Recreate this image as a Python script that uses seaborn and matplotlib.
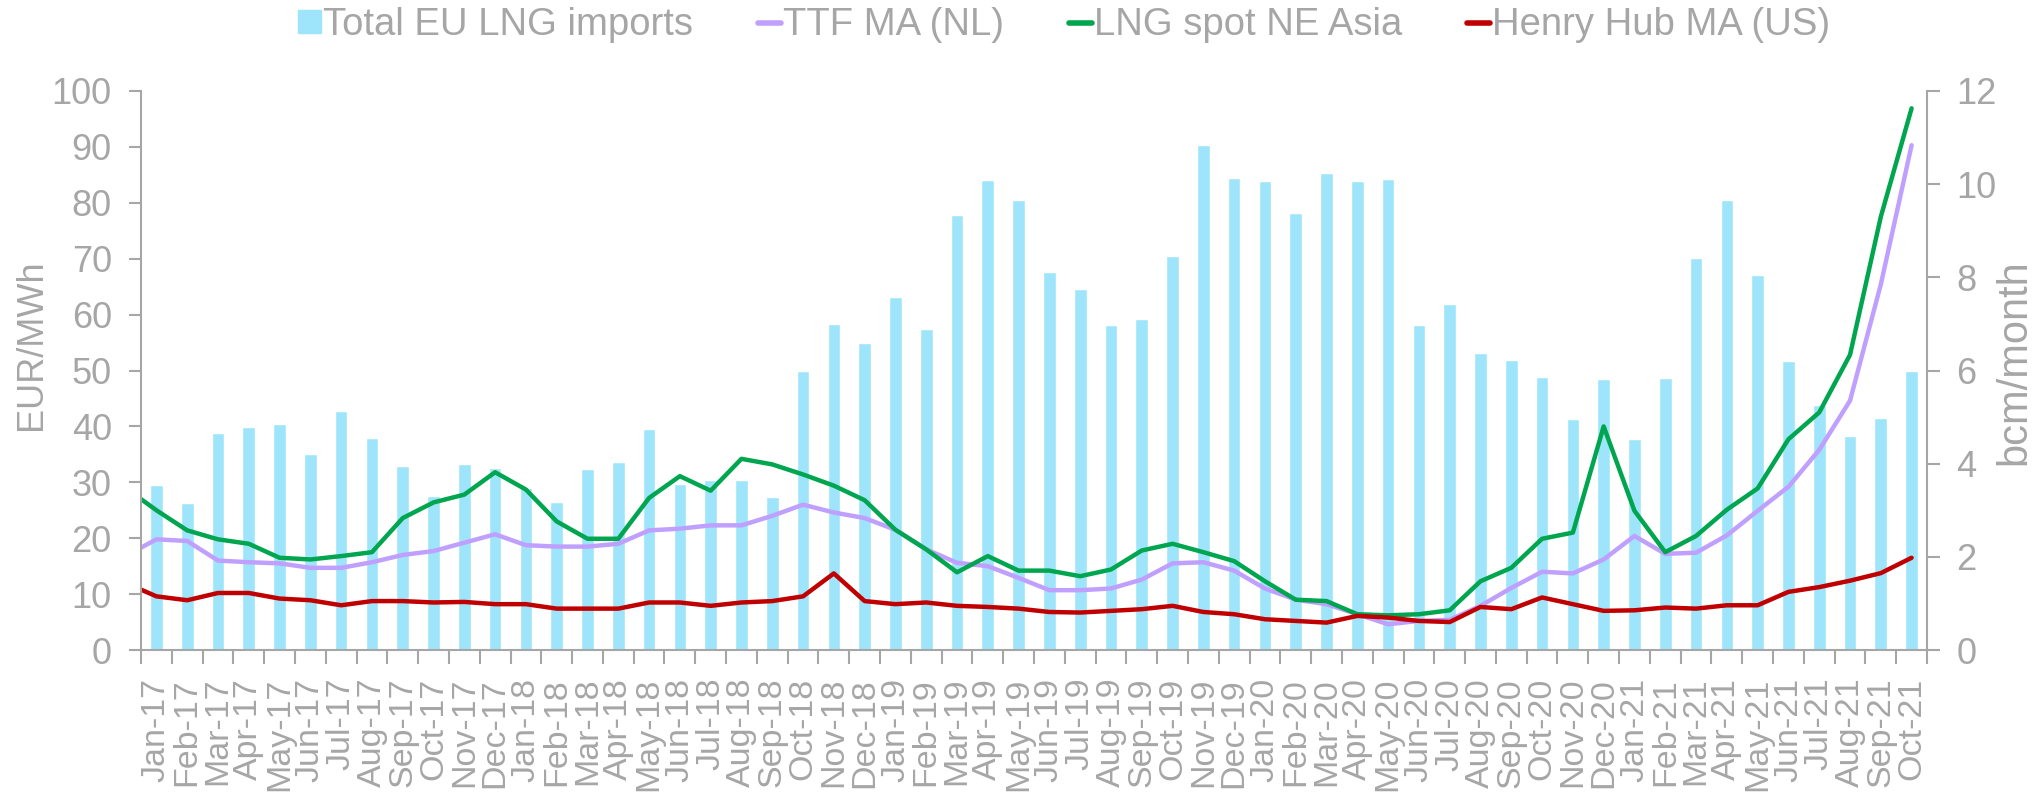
import numpy as np
import pandas as pd
import matplotlib
matplotlib.use("Agg")
import matplotlib.pyplot as plt
import seaborn as sns
from matplotlib.patches import Patch
from matplotlib.lines import Line2D

# categories: monthly, Jan-17 .. Oct-21
months = pd.date_range("2017-01-01", "2021-10-01", freq="MS").strftime("%b-%y").tolist()

# Total EU LNG imports, bcm/month (right axis)
lng_imports = [3.54, 3.15, 4.66, 4.78, 4.85, 4.21, 5.14, 4.56, 3.96, 3.30, 4.00, 3.90,
               3.48, 3.18, 3.88, 4.03, 4.74, 3.57, 3.64, 3.64, 3.28, 6.00, 7.00, 6.59,
               7.58, 6.89, 9.34, 10.08, 9.66, 8.12, 7.76, 6.97, 7.10, 8.46, 10.84, 10.14,
               10.06, 9.38, 10.24, 10.06, 10.12, 6.97, 7.43, 6.38, 6.23, 5.86, 4.96, 5.81,
               4.52, 5.83, 8.42, 9.66, 8.06, 6.20, 5.26, 4.60, 4.99, 5.99]

# prices, EUR/MWh (left axis); first value is the lead-in at the left edge
ttf = [18.3,
       19.8, 19.5, 16.0, 15.7, 15.5, 14.7, 14.7, 15.7, 17.0, 17.7, 19.2, 20.7,
       18.75, 18.5, 18.5, 19.0, 21.4, 21.7, 22.3, 22.3, 24.0, 26.0, 24.6, 23.6,
       21.5, 18.0, 15.6, 15.0, 12.9, 10.7, 10.7, 11.0, 12.6, 15.5, 15.7, 14.2,
       11.0, 9.0, 8.2, 6.4, 4.6, 5.2, 5.4, 7.9, 11.1, 14.0, 13.7, 16.2,
       20.4, 17.2, 17.4, 20.5, 24.9, 29.2, 35.8, 44.6, 65.4, 90.3]
ne_asia = [27.0,
           25.0, 21.4, 19.8, 19.0, 16.5, 16.2, 16.8, 17.5, 23.6, 26.4, 27.8, 31.8,
           28.7, 23.0, 19.9, 19.9, 27.2, 31.1, 28.5, 34.2, 33.2, 31.4, 29.4, 26.8,
           21.5, 18.0, 13.9, 16.8, 14.2, 14.2, 13.2, 14.4, 17.8, 19.0, 17.5, 15.9,
           12.3, 9.0, 8.75, 6.4, 6.2, 6.4, 7.1, 12.3, 14.7, 19.9, 21.0, 40.0,
           24.9, 17.5, 20.4, 25.1, 28.9, 37.7, 42.5, 52.8, 77.5, 96.9]
henry_hub = [10.8,
             9.6, 8.9, 10.2, 10.2, 9.2, 8.9, 8.0, 8.75, 8.75, 8.5, 8.6, 8.2,
             8.2, 7.4, 7.4, 7.4, 8.5, 8.5, 7.9, 8.5, 8.75, 9.6, 13.7, 8.75,
             8.2, 8.5, 7.9, 7.7, 7.4, 6.8, 6.7, 7.0, 7.3, 7.9, 6.8, 6.4,
             5.5, 5.2, 4.9, 6.1, 5.8, 5.2, 5.0, 7.7, 7.3, 9.4, 8.2, 7.0,
             7.1, 7.6, 7.4, 8.0, 8.0, 10.4, 11.25, 12.4, 13.75, 16.5]

grey = "#A6A6A6"
c_bar = "#9EE5FB"
c_ttf = "#BFA0FF"
c_asia = "#00A64F"
c_hh = "#C00000"

sns.set_style("white")
plt.rcParams["font.family"] = ["Liberation Sans", "DejaVu Sans"]

fig = plt.figure(figsize=(20.44, 7.94), dpi=100)
ax = fig.add_axes([141 / 2044, 1 - 650 / 794, (1927 - 141) / 2044, (650 - 91) / 794])
ax2 = ax.twinx()

# bars on the right axis
sns.barplot(x=months, y=lng_imports, ax=ax2, color=c_bar, saturation=1, width=0.41)

# lines on the left axis (lead-in point sits on the left edge)
n = len(months)
x_line = np.concatenate([[-0.5], np.arange(n)])
for vals, col in [(ttf, c_ttf), (ne_asia, c_asia), (henry_hub, c_hh)]:
    sns.lineplot(x=x_line, y=vals, ax=ax, color=col, linewidth=3.2, sort=False)

ax.set_zorder(ax2.get_zorder() + 1)
ax.patch.set_visible(False)

ax.set_xlim(-0.5, n - 0.5)
ax.set_ylim(0, 100)
ax2.set_ylim(0, 12)
ax.set_yticks(np.arange(0, 101, 10))
ax2.set_yticks(np.arange(0, 13, 2))

# tick marks on category boundaries, labels centered on categories
ax.set_xticks(np.arange(-0.5, n, 1))
ax.set_xticklabels([])
ax.set_xticks(np.arange(n), minor=True)
ax.set_xticklabels(months, minor=True, rotation=90)
ax.tick_params(axis="x", which="major", direction="out", length=10, width=1.5, color=grey)
ax.tick_params(axis="x", which="minor", length=0, pad=20, labelsize=24.5, labelcolor=grey)
ax.tick_params(axis="y", direction="out", length=9, width=1.5, color=grey,
               labelsize=26, labelcolor=grey, pad=12)
ax2.tick_params(axis="y", direction="out", length=9, width=1.5, color=grey,
                labelsize=26, labelcolor=grey, pad=12)
ax.tick_params(left=True, bottom=True)
ax2.tick_params(right=True)

ax.set_xlabel("")
ax.set_ylabel("")
ax2.set_xlabel("")
ax2.set_ylabel("")

for s in ["top", "right"]:
    ax.spines[s].set_visible(False)
for s in ["left", "bottom"]:
    ax.spines[s].set_color(grey)
    ax.spines[s].set_linewidth(1.5)
for s in ["top", "left", "bottom"]:
    ax2.spines[s].set_visible(False)
ax2.spines["right"].set_color(grey)
ax2.spines["right"].set_linewidth(1.5)

fig.text(31 / 2044, 1 - 345 / 794, "EUR/MWh", rotation=90, ha="center", va="center",
         fontsize=26, color=grey)
fig.text(2014 / 2044, 1 - 362 / 794, "bcm/month", rotation=90, ha="center", va="center",
         fontsize=30, color=grey)

handles = [Patch(color=c_bar),
           Line2D([], [], color=c_ttf, lw=4),
           Line2D([], [], color=c_asia, lw=4),
           Line2D([], [], color=c_hh, lw=4)]
labels = ["Total EU LNG imports", "TTF MA (NL)", "LNG spot NE Asia", "Henry Hub MA (US)"]
fig.legend(handles, labels, loc="center", bbox_to_anchor=(0.5205, 0.968), ncol=4,
           frameon=False, fontsize=27.5, labelcolor=grey, handlelength=0.6,
           handleheight=0.55, handletextpad=0.05, columnspacing=1.7)

fig.savefig("out.png", dpi=100)
